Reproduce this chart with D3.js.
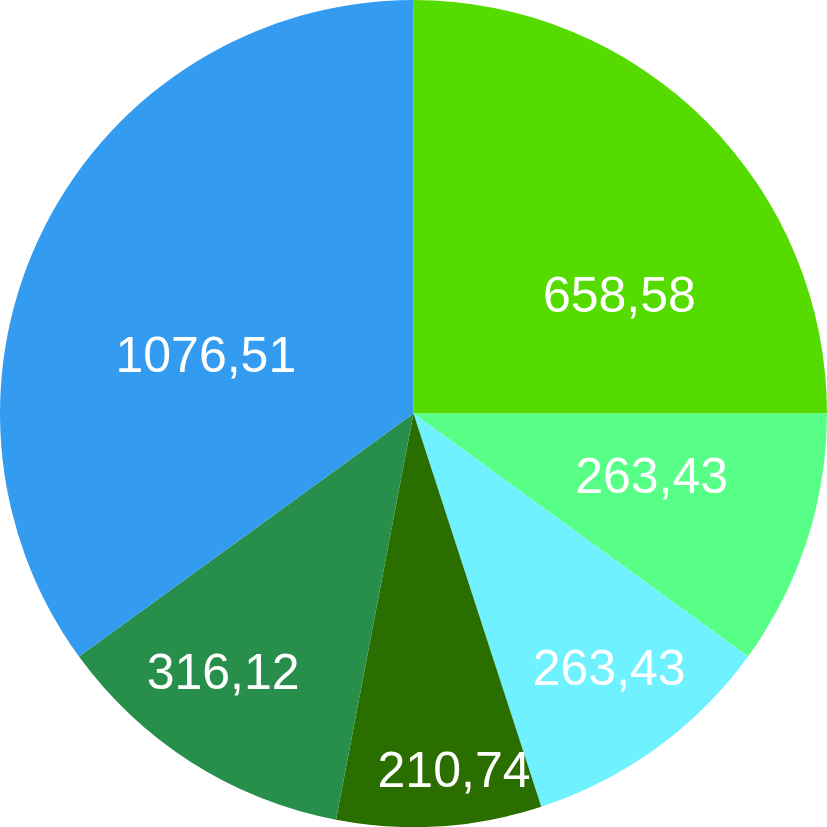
<!DOCTYPE html>
<html>
<head>
<meta charset="utf-8">
<script src="https://cdn.jsdelivr.net/npm/d3@7"></script>
<style>
  html, body { margin: 0; padding: 0; background: #ffffff; }
  svg { display: block; }
</style>
</head>
<body>
<svg id="chart"></svg>
<script>
// ===========================
// Data
// ===========================

// printed labels, clockwise from 12 o'clock
const labelTexts = ["658,58", "263,43", "263,43", "210,74", "316,12", "1076,51"];

// slice sizes as measured from the wedge angles
// (the blue wedge is drawn smaller than its printed label)
const sliceValues = [658.58, 263.43, 263.43, 210.74, 316.12, 922.02];

const sliceColors = ["#55DB00", "#57FF87", "#6FF1FF", "#2B6E00", "#278F4B", "#339CF0"];

// ===========================
// Layout
// ===========================
const width = 827, height = 827;
const cx = 413.5, cy = 413.5;
const radius = 413.5;

// label placement: rotation (deg) away from the wedge middle, distance from centre
const labelTurn = [14.9, -3.5, -1.7, -2.9, 4.1, -11];
const labelDist = [238, 246, 320, 358, 320, 216];

const svg = d3.select("#chart")
  .attr("width", width)
  .attr("height", height);

const g = svg.append("g")
  .attr("transform", `translate(${cx},${cy})`);

const slices = sliceValues.map((v, i) => ({ value: v, label: labelTexts[i], color: sliceColors[i] }));

// Pie and arc generators
const pie = d3.pie()
  .sort(null)
  .value(d => d.value);

const arc = d3.arc()
  .innerRadius(0)
  .outerRadius(radius);

const arcs = pie(slices);

// Draw slices
g.selectAll("path")
  .data(arcs)
  .enter()
  .append("path")
  .attr("d", arc)
  .attr("fill", d => d.data.color);

// Labels
g.selectAll("text")
  .data(arcs)
  .enter()
  .append("text")
  .attr("transform", (d, i) => {
    const a = (d.startAngle + d.endAngle) / 2 + labelTurn[i] * Math.PI / 180;
    const r = labelDist[i];
    return `translate(${r * Math.sin(a)},${-r * Math.cos(a)})`;
  })
  .attr("text-anchor", "middle")
  .attr("dy", "0.36em")
  .style("font-family", "'Liberation Sans', Arial, sans-serif")
  .style("font-size", "50px")
  .style("fill", "#ffffff")
  .text(d => d.data.label);
</script>
</body>
</html>
